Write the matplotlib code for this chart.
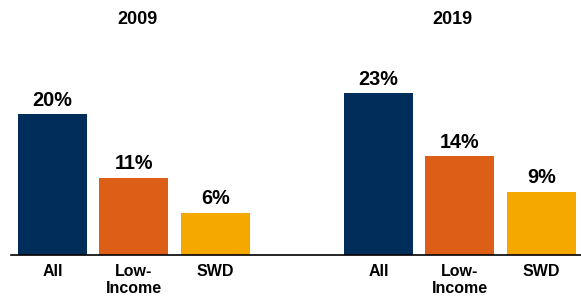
import matplotlib.pyplot as plt

plt.rcParams['font.family'] = ['Liberation Sans', 'DejaVu Sans']
plt.rcParams['font.weight'] = 'bold'

years = ['2009', '2019']
groups = ['All', 'Low-\nIncome', 'SWD']
values_2009 = [20, 11, 6]
values_2019 = [23, 14, 9]
colors = ['#012D5B', '#DD5F17', '#F5A800']

positions_2009 = [0, 1, 2]
positions_2019 = [4, 5, 6]

fig = plt.figure(figsize=(5.81, 2.97), dpi=100)
ax = fig.add_axes([11 / 581, 42 / 297, 570 / 581, 255 / 297])

for pos, vals in [(positions_2009, values_2009), (positions_2019, values_2019)]:
    bars = ax.bar(pos, vals, width=0.847, color=colors)
    for b, v in zip(bars, vals):
        ax.annotate('{}%'.format(v), (b.get_x() + b.get_width() / 2, v),
                    xytext=(0, 6), textcoords='offset points',
                    ha='center', va='baseline', fontsize=14.3, fontweight='bold')

ax.text(1.04, 33.5, years[0], ha='center', va='center', fontsize=13, fontweight='bold')
ax.text(4.91, 33.5, years[1], ha='center', va='center', fontsize=13, fontweight='bold')

ax.set_xlim(-0.509, 6.485)
ax.set_ylim(0, 36.2)
ax.set_xticks(positions_2009 + positions_2019)
ax.set_xticklabels(groups + groups, fontsize=11.5, fontweight='bold', linespacing=1.2)
ax.tick_params(axis='x', length=0, pad=6.5)
ax.set_yticks([])

for s in ['top', 'right', 'left']:
    ax.spines[s].set_visible(False)
ax.spines['bottom'].set_linewidth(1.2)
ax.spines['bottom'].set_color('black')

plt.savefig('out.png', dpi=100)
